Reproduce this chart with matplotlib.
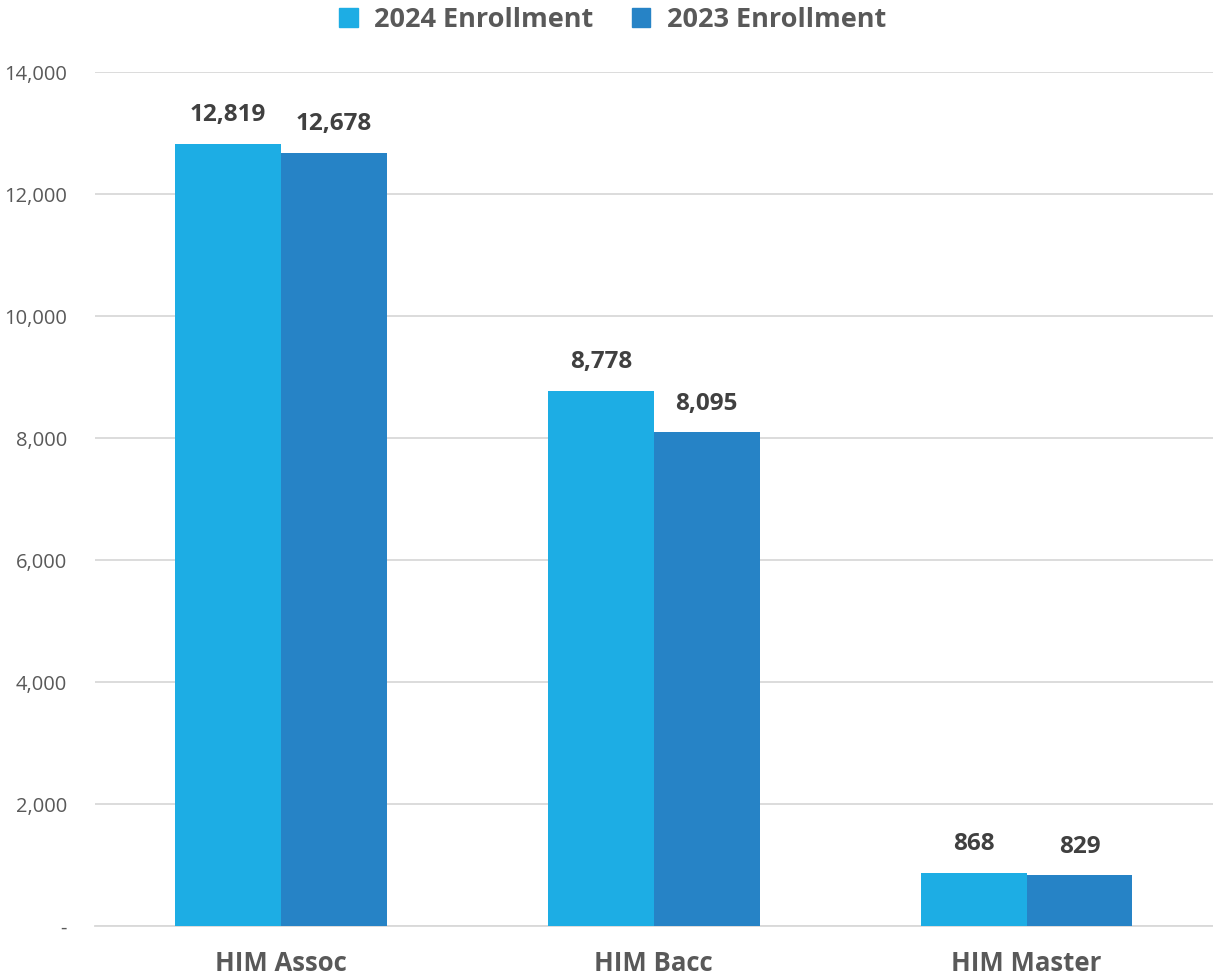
import numpy as np
import matplotlib.pyplot as plt
from matplotlib.ticker import FuncFormatter
from matplotlib.patches import Patch

plt.rcParams['font.family'] = ['Open Sans', 'DejaVu Sans']

categories = ['HIM Assoc', 'HIM Bacc', 'HIM Master']
enroll_2024 = [12819, 8778, 868]
enroll_2023 = [12678, 8095, 829]
series_names = ['2024 Enrollment', '2023 Enrollment']
colors = ['#1DADE4', '#2683C6']

fig = plt.figure(figsize=(12.13, 9.8), dpi=100)
ax = fig.add_axes([0.078, 0.0551, 0.922, 0.8714])

x = np.arange(len(categories))
w = 0.284
b1 = ax.bar(x - w / 2, enroll_2024, w, color=colors[0], zorder=3)
b2 = ax.bar(x + w / 2, enroll_2023, w, color=colors[1], zorder=3)

for bars in (b1, b2):
    for bar in bars:
        h = bar.get_height()
        ax.annotate(f'{h:,.0f}', (bar.get_x() + bar.get_width() / 2, h),
                    xytext=(0, 12), textcoords='offset points',
                    ha='center', va='bottom', fontsize=17.5, fontweight='bold',
                    color='#404040')

ax.set_xlim(-0.5, 2.5)
ax.set_ylim(0, 14000)
ax.set_yticks(np.arange(0, 14001, 2000))
ax.yaxis.set_major_formatter(FuncFormatter(lambda v, p: '-' if v == 0 else f'{v:,.0f}'))
ax.set_xticks(x)
ax.set_xticklabels(categories, fontsize=18.5, fontweight='bold', color='#595959')
ax.tick_params(axis='y', labelsize=14.5, labelcolor='#595959', length=0, pad=20)
ax.tick_params(axis='x', length=0, pad=17)

ax.grid(axis='y', color='#D9D9D9', linewidth=1.3, zorder=0)
for s in ['top', 'right', 'left']:
    ax.spines[s].set_visible(False)
ax.spines['bottom'].set_color('#D9D9D9')
ax.spines['bottom'].set_linewidth(1.3)

handles = [Patch(color=c) for c in colors]
fig.legend(handles, series_names, loc='upper center', bbox_to_anchor=(0.505, 1.018),
           ncol=2, frameon=False, handlelength=0.7, handleheight=0.7,
           columnspacing=1.4, handletextpad=0.6,
           prop={'size': 19.5, 'weight': 'bold'}, labelcolor='#595959')

fig.savefig('out.png', dpi=100)
